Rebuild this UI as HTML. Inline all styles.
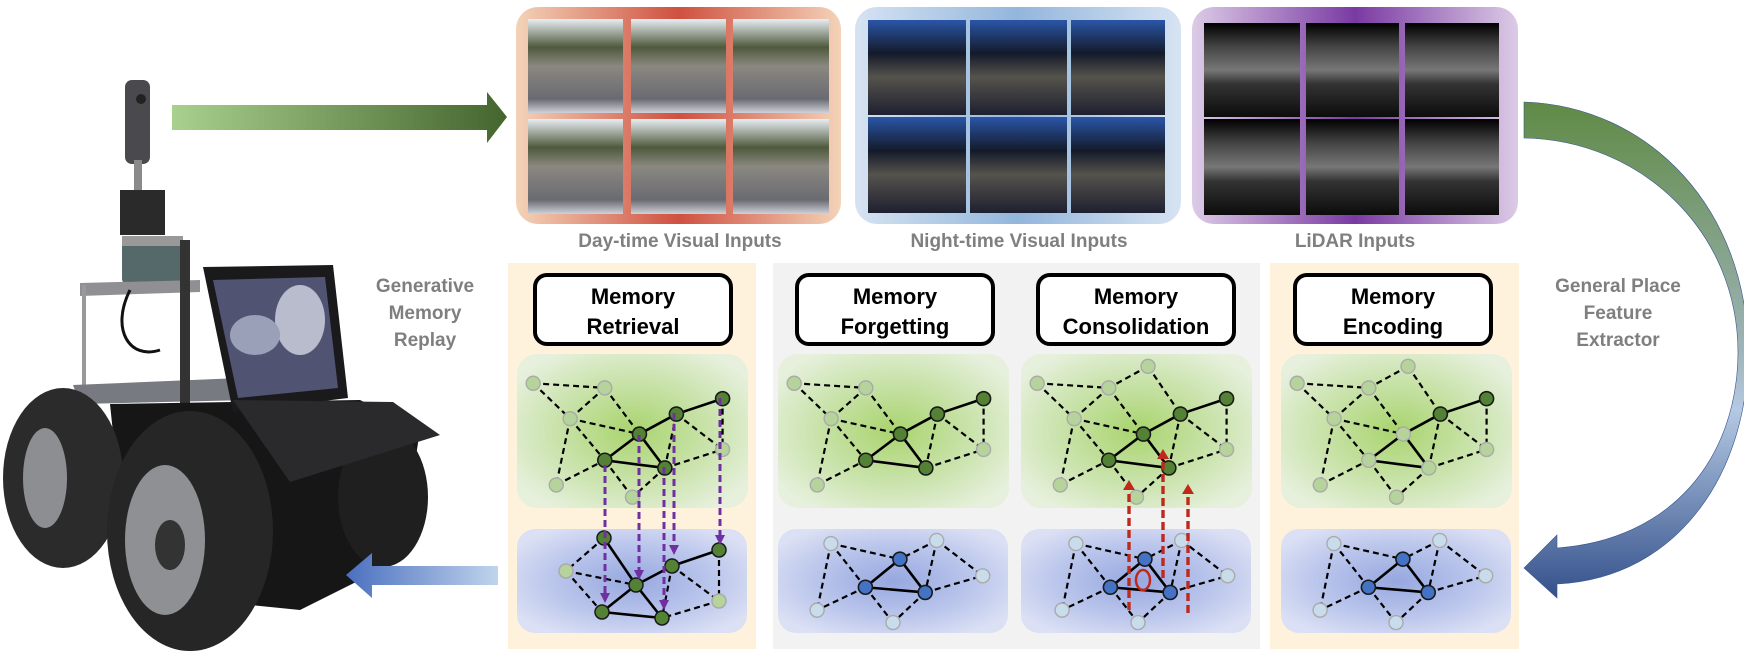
<!DOCTYPE html>
<html><head><meta charset="utf-8">
<style>
html,body{margin:0;padding:0;background:#fff;}
svg{display:block;}
text{font-family:"Liberation Sans",sans-serif;}
</style></head>
<body>
<svg id="s" width="1744" height="654" viewBox="0 0 1744 654" xmlns="http://www.w3.org/2000/svg">
<defs>
<linearGradient id="garr" x1="0" x2="1" y1="0" y2="0"><stop offset="0" stop-color="#a9d08e"/><stop offset="1" stop-color="#44652e"/></linearGradient>
<linearGradient id="barr" x1="0" x2="1" y1="0" y2="0"><stop offset="0" stop-color="#4a6fbf"/><stop offset="1" stop-color="#c0d4ec"/></linearGradient>
<linearGradient id="curv" x1="0" x2="0" y1="0" y2="1"><stop offset="0" stop-color="#5f8a45"/><stop offset="0.5" stop-color="#9fb4b8"/><stop offset="0.62" stop-color="#b4c9e3"/><stop offset="1" stop-color="#33508a"/></linearGradient>
<radialGradient id="gbox" cx="0.5" cy="0.5" r="0.6"><stop offset="0" stop-color="#a9d46e"/><stop offset="0.6" stop-color="#cce4b0"/><stop offset="1" stop-color="#e6f0dc"/></radialGradient>
<radialGradient id="bbox" cx="0.5" cy="0.5" r="0.6"><stop offset="0" stop-color="#97a8e0"/><stop offset="0.6" stop-color="#bcc7ec"/><stop offset="1" stop-color="#dbe0f4"/></radialGradient>
<linearGradient id="dayf" x1="0" x2="1"><stop offset="0" stop-color="#f3d3b8"/><stop offset="0.5" stop-color="#cf5040"/><stop offset="1" stop-color="#f3d3b8"/></linearGradient>
<linearGradient id="nightf" x1="0" x2="1"><stop offset="0" stop-color="#d6e3f2"/><stop offset="0.5" stop-color="#93b6dc"/><stop offset="1" stop-color="#d6e3f2"/></linearGradient>
<linearGradient id="lidf" x1="0" x2="1"><stop offset="0" stop-color="#dccbe6"/><stop offset="0.5" stop-color="#7a3aa3"/><stop offset="1" stop-color="#dccbe6"/></linearGradient>
<linearGradient id="dayi" x1="0" x2="0" y1="0" y2="1"><stop offset="0" stop-color="#e8eef4"/><stop offset="0.3" stop-color="#4f5a3c"/><stop offset="0.5" stop-color="#8a8880"/><stop offset="0.85" stop-color="#6a6a72"/><stop offset="1" stop-color="#cfd2d8"/></linearGradient>
<linearGradient id="nighti" x1="0" x2="0" y1="0" y2="1"><stop offset="0" stop-color="#2a56a8"/><stop offset="0.35" stop-color="#141a2a"/><stop offset="0.6" stop-color="#55534c"/><stop offset="1" stop-color="#1e2030"/></linearGradient>
<linearGradient id="lidi" x1="0" x2="0" y1="0" y2="1"><stop offset="0" stop-color="#000"/><stop offset="0.25" stop-color="#444"/><stop offset="0.5" stop-color="#777"/><stop offset="0.65" stop-color="#333"/><stop offset="1" stop-color="#0c0c0c"/></linearGradient>
</defs>

<!-- robot -->
<g>
<rect x="125" y="80" width="25" height="84" rx="7" fill="#4a4a4e"/>
<circle cx="141" cy="99" r="5" fill="#222"/>
<rect x="134" y="160" width="8" height="30" fill="#8a8a8a"/>
<rect x="120" y="190" width="45" height="45" fill="#2a2a2a"/>
<rect x="122" y="236" width="61" height="48" rx="5" fill="#55686a"/>
<rect x="122" y="236" width="61" height="10" fill="#999"/>
<polygon points="80,283 200,280 200,292 80,296" fill="#8f8f94"/>
<rect x="82" y="285" width="4" height="110" fill="#999"/>
<polygon points="73,385 240,378 250,400 80,404" fill="#777a80"/>
<path d="M130,290 C110,330 130,360 160,350" stroke="#111" stroke-width="3" fill="none"/>
<rect x="180" y="240" width="10" height="170" fill="#333"/>
<polygon points="110,404 360,400 420,430 400,560 300,610 200,600 120,500" fill="#161616"/>
<ellipse cx="383" cy="497" rx="45" ry="70" fill="#1f1f1f"/>
<ellipse cx="63" cy="478" rx="60" ry="90" fill="#2b2b2b"/>
<ellipse cx="45" cy="478" rx="22" ry="50" fill="#8c8e92"/>
<ellipse cx="190" cy="531" rx="83" ry="120" fill="#262626"/>
<ellipse cx="165" cy="540" rx="40" ry="75" fill="#8e9094"/>
<ellipse cx="170" cy="545" rx="15" ry="25" fill="#333"/>
<polygon points="203,267 333,265 348,398 233,412" fill="#1a1a1c"/>
<polygon points="213,280 325,277 338,388 238,398" fill="#505472"/>
<ellipse cx="300" cy="320" rx="25" ry="35" fill="#b8bccc"/>
<ellipse cx="255" cy="335" rx="25" ry="20" fill="#9aa0b8"/>
<polygon points="233,400 393,402 440,435 290,482" fill="#2a2a2c"/>
</g>

<!-- arrows -->
<polygon points="172,105 487,105 487,92 507,117 487,143 487,130 172,130" fill="url(#garr)"/>
<polygon points="498,566 372,566 372,553 346,575 372,598 372,585 498,585" fill="url(#barr)"/>
<path d="M1524,102 C1650,106 1748,210 1748,353 C1748,470 1680,578 1557,584 L1557,598 L1524,568 L1557,535 L1557,548 C1670,540 1737,460 1738,353 C1738,230 1640,140 1524,138 Z" fill="url(#curv)" stroke="#3a5590" stroke-width="0.6"/>

<g font-weight="bold" fill="#7f7f7f" font-size="19" text-anchor="middle">
<text x="425" y="292">Generative</text><text x="425" y="319">Memory</text><text x="425" y="346">Replay</text>
<text x="1618" y="292">General Place</text><text x="1618" y="319">Feature</text><text x="1618" y="346">Extractor</text>
<text x="680" y="247">Day-time Visual Inputs</text>
<text x="1019" y="247">Night-time Visual Inputs</text>
<text x="1355" y="247">LiDAR Inputs</text>
</g>

<!-- top input frames -->
<rect x="516" y="7" width="325" height="217" rx="22" fill="url(#dayf)"/>
<rect x="855" y="7" width="326" height="217" rx="22" fill="url(#nightf)"/>
<rect x="1192" y="7" width="326" height="217" rx="22" fill="url(#lidf)"/>
<g id="imgs"></g>

<!-- panels -->
<rect x="508" y="263" width="248" height="386" fill="#fff2dc"/>
<rect x="773" y="263" width="487" height="386" fill="#f2f2f2"/>
<rect x="1270" y="263" width="249" height="386" fill="#fff2dc"/>
<g id="g"></g>
</svg>
<script>
var NS="http://www.w3.org/2000/svg",g=document.getElementById('g'),im=document.getElementById('imgs');
function el(t,a,p){var e=document.createElementNS(NS,t);for(var k in a)e.setAttribute(k,a[k]);(p||g).appendChild(e);return e;}
function grid(cols,rows,f){cols.forEach(function(c){rows.forEach(function(r){el('rect',{x:c[0],y:r[0],width:c[1]-c[0],height:r[1]-r[0],fill:f},im);});});}
grid([[528,623],[631,726],[733,829]],[[19,113],[119,214]],'url(#dayi)');
grid([[868,966],[970,1067],[1071,1165]],[[20,115],[117,213]],'url(#nighti)');
grid([[1204,1300],[1306,1399],[1405,1499]],[[23,117],[119,215]],'url(#lidi)');
[[535,'Retrieval'],[797,'Forgetting'],[1038,'Consolidation'],[1295,'Encoding']].forEach(function(b){
 el('rect',{x:b[0],y:275,width:196,height:69,rx:12,fill:'#fff',stroke:'#000','stroke-width':4});
 var t=el('text',{x:b[0]+98,y:304,'text-anchor':'middle','font-weight':'bold','font-size':22});t.textContent='Memory';
 t=el('text',{x:b[0]+98,y:334,'text-anchor':'middle','font-weight':'bold','font-size':22});t.textContent=b[1];
});
var GN={A:[.07,.19],B:[.38,.22],C:[.23,.42],D:[.53,.52],E:[.69,.39],F:[.89,.29],G:[.89,.62],H:[.38,.69],I:[.64,.74],J:[.17,.85],K:[.50,.93],T:[.55,.08]};
var GE=[['A','B',0],['A','C',0],['B','C',0],['B','D',0],['C','D',0],['C','H',0],['C','J',0],['D','E',1],['E','F',1],['D','H',1],['D','I',1],['H','I',1],['E','I',0],['E','G',0],['F','G',0],['I','G',0],['J','H',0],['H','K',0],['I','K',0]];
var BN={a:[.23,.14],b:[.69,.11],c:[.53,.29],d:[.38,.56],e:[.64,.61],f:[.89,.45],g:[.17,.78],h:[.50,.90]};
var BE=[['a','c',0],['a','d',0],['a','g',0],['b','c',0],['b','e',0],['b','f',0],['c','d',1],['c','e',1],['d','e',1],['d','g',0],['d','h',0],['e','h',0],['e','f',0]];
var DG='#548235',LG='#b5d39a',DB='#4472c4',LB='#c9dcec';
function graph(x,y,w,h,N,E,col,skip,extra){
 function P(k){return [x+N[k][0]*w,y+N[k][1]*h];}
 (extra||[]).concat(E).forEach(function(e){if(skip.indexOf(e[0])>=0||skip.indexOf(e[1])>=0)return;var a=P(e[0]),b=P(e[1]);
  el('line',{x1:a[0],y1:a[1],x2:b[0],y2:b[1],stroke:'#000','stroke-width':e[2]?2.6:2.2,'stroke-dasharray':e[2]?'':'6,4'});});
 for(var k in N){if(skip.indexOf(k)>=0)continue;var p=P(k),c=col[k];var dark=(c==DG||c==DB);
  el('circle',{cx:p[0],cy:p[1],r:7,fill:c,stroke:dark?'#1a1a1a':'#aaa','stroke-width':dark?1.6:1.4});}
}
function gb(x){el('rect',{x:x,y:354,width:231,height:154,rx:20,fill:'url(#gbox)'});}
function bb(x){el('rect',{x:x,y:529,width:230,height:104,rx:18,fill:'url(#bbox)'});}
[517,778,1021,1281].forEach(function(x){gb(x);bb(x);});
function gc(darks){var c={};for(var k in GN)c[k]=darks.indexOf(k)>=0?DG:LG;return c;}
function bc(darks,dc,lc){var c={};for(var k in BN)c[k]=darks.indexOf(k)>=0?dc:lc;return c;}
graph(517,354,231,154,GN,GE,gc('DEFHI'),['T']);
graph(778,354,231,154,GN,GE,gc('DEFHI'),['T','K']);
graph(1021,354,231,154,GN,GE,gc('DEFHI'),[],[['T','B',0],['T','E',0]]);
graph(1281,354,231,154,GN,GE,gc('EF'),[],[['T','B',0],['T','E',0]]);
var RN={p1:[604,538],p2:[566,571],p3:[636,585],p4:[672,566],p5:[719,550],p6:[719,601],p7:[602,612],p8:[662,618]};
var RE=[['p1','p2',0],['p1','p3',1],['p2','p3',0],['p2','p7',0],['p3','p4',1],['p4','p5',1],['p3','p7',1],['p3','p8',1],['p7','p8',1],['p4','p8',0],['p4','p6',0],['p5','p6',0],['p6','p8',0]];
RE.forEach(function(e){var a=RN[e[0]],b=RN[e[1]];el('line',{x1:a[0],y1:a[1],x2:b[0],y2:b[1],stroke:'#000','stroke-width':e[2]?2.6:2.2,'stroke-dasharray':e[2]?'':'6,4'});});
for(var k in RN){var lt=(k=='p2'||k=='p6');el('circle',{cx:RN[k][0],cy:RN[k][1],r:7,fill:lt?LG:DG,stroke:lt?'#aaa':'#1a1a1a','stroke-width':1.5});}
graph(778,529,230,104,BN,BE,bc('cde',DB,LB),[]);
graph(1023,529,230,104,BN,BE,bc('cde',DB,LB),[]);
graph(1281,529,230,104,BN,BE,bc('cde',DB,LB),[]);
[[605,465,603],[639,435,580],[664,467,610],[674,413,555],[720,398,545]].forEach(function(a){
 el('line',{x1:a[0],y1:a[1],x2:a[0],y2:a[2]-8,stroke:'#7030a0','stroke-width':3,'stroke-dasharray':'7,4'});
 el('polygon',{points:(a[0]-5)+','+(a[2]-10)+' '+(a[0]+5)+','+(a[2]-10)+' '+a[0]+','+a[2],fill:'#7030a0'});});
[[1129,610,480],[1163,578,449],[1188,613,484]].forEach(function(a){
 el('line',{x1:a[0],y1:a[1],x2:a[0],y2:a[2]+8,stroke:'#c0281c','stroke-width':3.4,'stroke-dasharray':'8,4'});
 el('polygon',{points:(a[0]-6)+','+(a[2]+10)+' '+(a[0]+6)+','+(a[2]+10)+' '+a[0]+','+a[2],fill:'#c0281c'});});
el('ellipse',{cx:1143,cy:580,rx:7,ry:10,fill:'none',stroke:'#c0281c','stroke-width':2.5});
</script>
</body></html>
